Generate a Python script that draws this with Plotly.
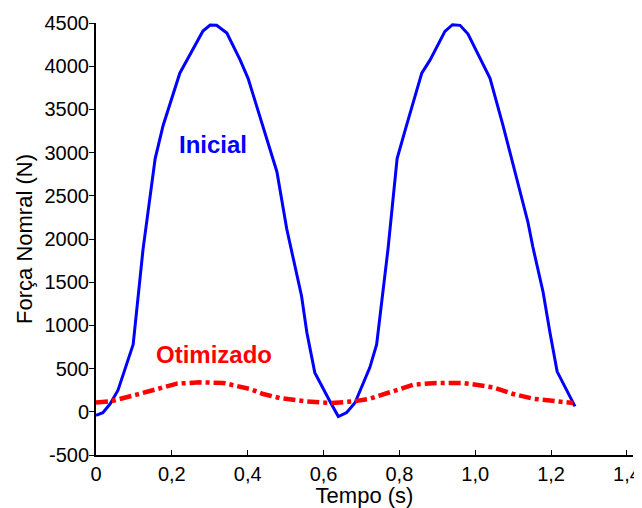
import plotly.graph_objects as go

# Inicial (blue)
t_inicial = [0.0, 0.018, 0.037, 0.058, 0.098, 0.124, 0.156, 0.177, 0.221, 0.282,
             0.301, 0.318, 0.345, 0.380, 0.401, 0.440, 0.477, 0.503, 0.542, 0.556,
             0.577, 0.617, 0.639, 0.661, 0.683, 0.722, 0.740, 0.770, 0.794, 0.819,
             0.859, 0.881, 0.920, 0.940, 0.960, 0.981, 1.039, 1.073, 1.096, 1.118,
             1.139, 1.152, 1.179, 1.197, 1.216, 1.263]
f_inicial = [-40, -10, 90, 250, 780, 1880, 2930, 3314, 3919, 4407,
             4477, 4473, 4384, 4073, 3860, 3302, 2779, 2116, 1341, 918,
             453, 120, -55, -8, 105, 512, 779, 1884, 2930, 3318,
             3919, 4073, 4403, 4480, 4473, 4372, 3860, 3318, 2930, 2543,
             2194, 1907, 1384, 918, 465, 62]

# Otimizado (red)
t_otim = [0.0, 0.037, 0.107, 0.160, 0.213, 0.274, 0.336, 0.406, 0.441, 0.485,
          0.556, 0.617, 0.678, 0.722, 0.757, 0.801, 0.837, 0.898, 0.968, 1.047,
          1.100, 1.153, 1.258]
f_otim = [108, 120, 198, 264, 326, 341, 334, 264, 206, 159,
          120, 101, 120, 151, 198, 264, 314, 334, 334, 283,
          206, 151, 101]

x_ticks = [0, 0.2, 0.4, 0.6, 0.8, 1.0, 1.2, 1.4]
x_ticklabels = ["0", "0,2", "0,4", "0,6", "0,8", "1,0", "1,2", "1,4"]
y_ticks = [-500, 0, 500, 1000, 1500, 2000, 2500, 3000, 3500, 4000, 4500]
y_ticklabels = ["-500", "0", "500", "1000", "1500", "2000", "2500", "3000", "3500", "4000", "4500"]

FONT = "Liberation Sans, Arial, sans-serif"

fig = go.Figure()
fig.add_trace(go.Scatter(x=t_inicial, y=f_inicial, mode="lines",
                         line=dict(color="#0000ff", width=3), name="Inicial"))
fig.add_trace(go.Scatter(x=t_otim, y=f_otim, mode="lines",
                         line=dict(color="#ff0000", width=4.5, dash="12px,4px,4px,4px"),
                         name="Otimizado"))

fig.add_annotation(x=0.308, y=3093, text="<b>Inicial</b>", showarrow=False,
                   font=dict(family=FONT, size=24, color="#0000ff"))
fig.add_annotation(x=0.312, y=663, text="<b>Otimizado</b>", showarrow=False,
                   font=dict(family=FONT, size=24, color="#ff0000"))

# page body has an 8px default margin, so the figure is sized to fit inside
fig.update_layout(
    width=634, height=500,
    margin=dict(l=88, r=9, t=15, b=53),
    paper_bgcolor="white", plot_bgcolor="white",
    showlegend=False,
    font=dict(family=FONT, size=20, color="black"),
)
fig.update_xaxes(range=[0, 1.416], tickvals=x_ticks, ticktext=x_ticklabels,
                 ticks="inside", ticklen=5, tickcolor="black",
                 showline=True, linecolor="black", linewidth=1.5,
                 showgrid=False, zeroline=False, automargin=False,
                 tickfont=dict(family=FONT, size=20),
                 title=dict(text="Tempo (s)", font=dict(family=FONT, size=22), standoff=3))
fig.update_yaxes(range=[-500, 4500], tickvals=y_ticks, ticktext=y_ticklabels,
                 ticks="outside", ticklen=5, tickcolor="black",
                 showline=True, linecolor="black", linewidth=2,
                 showgrid=False, zeroline=False, automargin=False,
                 ticklabelstandoff=-4,
                 tickfont=dict(family=FONT, size=20),
                 title=dict(text="Força Nomral (N)", font=dict(family=FONT, size=22), standoff=6))

fig.write_html("out.html")
